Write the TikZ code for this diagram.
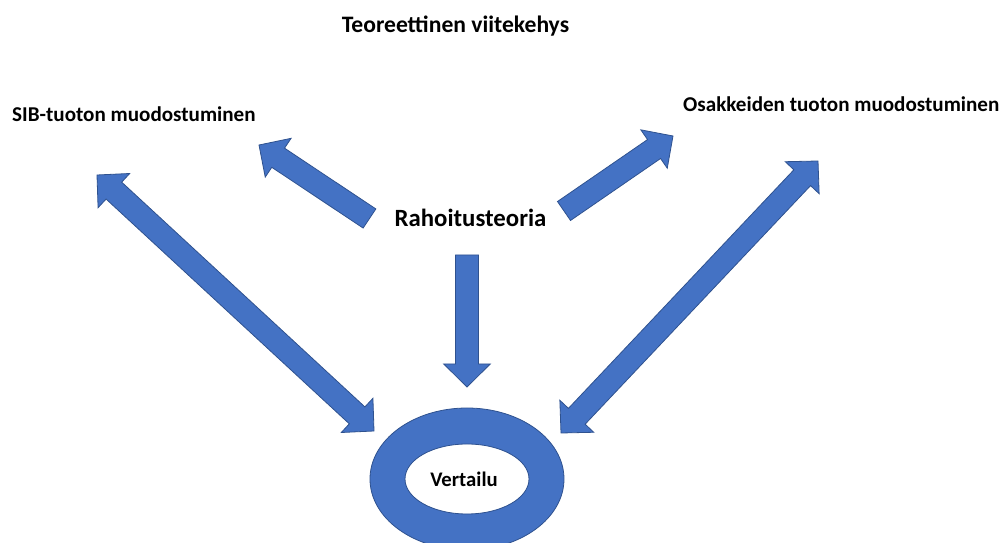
\documentclass[tikz,border=0pt]{standalone}
\usepackage{fontspec}
\setmainfont{Carlito}
\usetikzlibrary{calc}
\definecolor{fillblue}{HTML}{4472C4}
\definecolor{edgeblue}{HTML}{2F528F}
\tikzset{
  blockarrow/.style={fill=fillblue, draw=edgeblue, line width=0.8pt, line join=miter},
  ringshape/.style={fill=fillblue, draw=edgeblue, line width=0.8pt, even odd rule},
  lbl/.style={inner sep=0pt, font=\bfseries}
}
% single block arrow from tail #1 to tip #2
\newcommand{\sarrow}[2]{%
  \draw[blockarrow]
    ($(#1)!11.5pt!90:(#2)$) --
    ($($(#2)!23pt!(#1)$)!11.5pt!-90:(#1)$) --
    ($($(#2)!23pt!(#1)$)!23.3pt!-90:(#1)$) --
    (#2) --
    ($($(#2)!23pt!(#1)$)!23.3pt!90:(#1)$) --
    ($($(#2)!23pt!(#1)$)!11.5pt!90:(#1)$) --
    ($(#1)!11.5pt!-90:(#2)$) -- cycle;}
% double block arrow between tips #1 and #2
\newcommand{\darrow}[2]{%
  \draw[blockarrow]
    (#1) --
    ($($(#1)!23pt!(#2)$)!23.3pt!90:(#2)$) --
    ($($(#1)!23pt!(#2)$)!11.5pt!90:(#2)$) --
    ($($(#2)!23pt!(#1)$)!11.5pt!-90:(#1)$) --
    ($($(#2)!23pt!(#1)$)!23.3pt!-90:(#1)$) --
    (#2) --
    ($($(#2)!23pt!(#1)$)!23.3pt!90:(#1)$) --
    ($($(#2)!23pt!(#1)$)!11.5pt!90:(#1)$) --
    ($($(#1)!23pt!(#2)$)!11.5pt!-90:(#2)$) --
    ($($(#1)!23pt!(#2)$)!23.3pt!-90:(#2)$) -- cycle;}
\begin{document}
\begin{tikzpicture}[x=1pt,y=1pt]
\useasboundingbox (0,0) rectangle (1002,543);
% texts
\node[lbl, anchor=base, font=\bfseries\fontsize{23.6}{28}\selectfont] (title) at (455.5,510) {Teoreettinen viitekehys};
\node[lbl, anchor=base west, font=\bfseries\fontsize{21.1}{25}\selectfont] (sib) at (12,421) {SIB-tuoton muodostuminen};
\node[lbl, anchor=base west, font=\bfseries\fontsize{21.1}{25}\selectfont] (osak) at (683,431) {Osakkeiden tuoton muodostuminen};
\node[lbl, anchor=base, font=\bfseries\fontsize{24.8}{29}\selectfont] (rah) at (470.5,316) {Rahoitusteoria};
% arrow end points
\coordinate (ulTail) at (369.5,324.5);
\coordinate (ulTip) at (259,398);
\coordinate (urTail) at (564,332);
\coordinate (urTip) at (673,407);
\coordinate (dTail) at (467,288);
\coordinate (dTip) at (467,156);
\coordinate (lA) at (97,368);
\coordinate (lB) at (374,112);
\coordinate (rA) at (561,110);
\coordinate (rB) at (818,382);
\sarrow{ulTail}{ulTip}
\sarrow{urTail}{urTip}
\sarrow{dTail}{dTip}
\darrow{lA}{lB}
\darrow{rA}{rB}
% ring
\coordinate (ringc) at (467,64);
\draw[ringshape] (ringc) ellipse [x radius=97, y radius=71] (ringc) ellipse [x radius=62, y radius=35];
\node[lbl, anchor=base, font=\bfseries\fontsize{20.7}{25}\selectfont] (vert) at (464,56) {Vertailu};
\end{tikzpicture}
\end{document}
